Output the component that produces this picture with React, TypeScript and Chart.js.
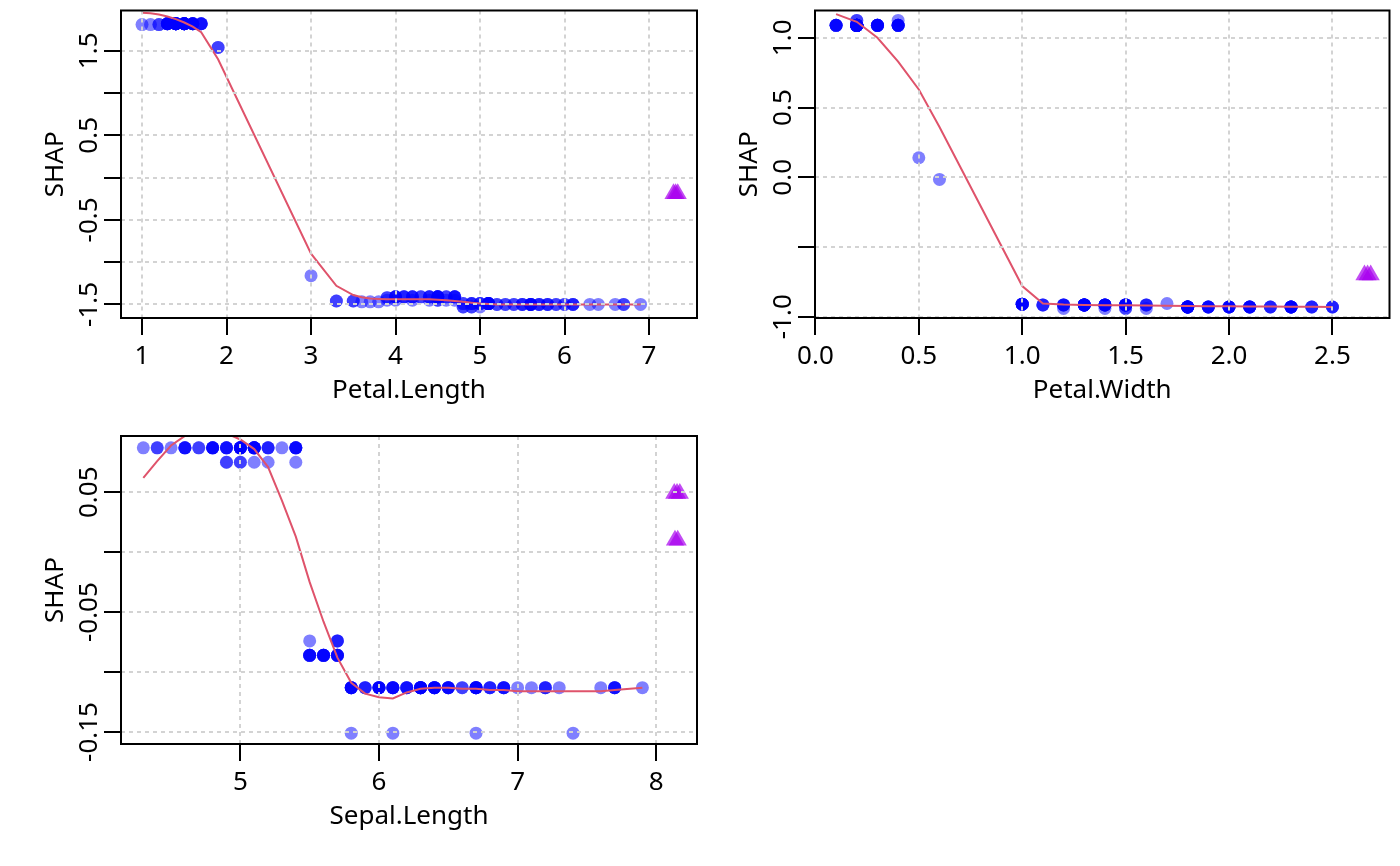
import { useEffect, useRef } from 'react';
import { Chart, registerables } from 'chart.js';

Chart.register(...registerables);

const FONT = '26px "Noto Sans", sans-serif';
const BLUE = 'rgba(0, 0, 255, 0.5)';
const PURPLE = 'rgba(168, 0, 238, 0.7)';
const RED = '#DF536B';
const GRID = '#D3D3D3';

// ---- Petal.Length ----
const PL_X = [1.0, 1.1, 1.2, 1.3, 1.4, 1.5, 1.6, 1.7, 1.9, 3.0, 3.3, 3.5, 3.6, 3.7, 3.8,
  3.9, 3.9, 4.0, 4.0, 4.1, 4.2, 4.2, 4.3, 4.4, 4.4, 4.5, 4.5, 4.6, 4.6, 4.7, 4.7,
  4.8, 4.8, 4.9, 4.9, 5.0, 5.0, 5.1, 5.2, 5.3, 5.4, 5.5, 5.6, 5.7, 5.8, 5.9, 6.0, 6.1,
  6.3, 6.4, 6.6, 6.7, 6.9];
const PL_SHAP = [1.81, 1.81, 1.81, 1.82, 1.82, 1.82, 1.82, 1.82, 1.54, -1.16, -1.46, -1.46, -1.47, -1.47, -1.47,
  -1.42, -1.45, -1.41, -1.45, -1.41, -1.41, -1.45, -1.41, -1.41, -1.45, -1.41, -1.45, -1.41, -1.45, -1.41, -1.45,
  -1.49, -1.53, -1.49, -1.53, -1.49, -1.53, -1.49, -1.5, -1.5, -1.5, -1.5, -1.5, -1.5, -1.5, -1.5, -1.5, -1.5,
  -1.5, -1.5, -1.5, -1.5, -1.5];
const PL_N = [1, 1, 2, 7, 13, 13, 7, 4, 2, 1, 2, 2, 1, 1, 1,
  2, 1, 4, 1, 3, 3, 1, 2, 3, 1, 6, 2, 2, 1, 4, 1,
  2, 2, 3, 2, 3, 1, 8, 2, 2, 2, 3, 6, 3, 3, 2, 2, 3,
  1, 1, 1, 2, 1];
const PL_FIT_X = [1.0, 1.1, 1.2, 1.3, 1.4, 1.5, 1.6, 1.7, 1.9, 3.0, 3.3, 3.5, 3.6, 3.7, 3.8, 3.9, 4.0, 4.1,
  4.2, 4.3, 4.4, 4.5, 4.6, 4.7, 4.8, 4.9, 5.0, 5.1, 5.2, 5.3, 5.4, 5.5, 5.6, 5.7, 5.8, 5.9, 6.0, 6.1,
  6.3, 6.4, 6.6, 6.7, 6.9];
const PL_FIT_Y = [1.95, 1.945, 1.93, 1.905, 1.875, 1.835, 1.785, 1.72, 1.4, -0.9, -1.28, -1.39, -1.415, -1.43, -1.435, -1.44, -1.44, -1.44,
  -1.44, -1.44, -1.44, -1.445, -1.45, -1.46, -1.47, -1.48, -1.49, -1.495, -1.5, -1.5, -1.5, -1.5, -1.5, -1.5, -1.5, -1.5, -1.5, -1.5,
  -1.5, -1.5, -1.5, -1.5, -1.5];
const PL_TRI_X = [7.29, 7.315, 7.34];
const PL_TRI_Y = [-0.19, -0.19, -0.19];
const PL_XTICKS = [1, 2, 3, 4, 5, 6, 7];
const PL_XLABELS = ['1', '2', '3', '4', '5', '6', '7'];
const PL_YTICKS = [-1.5, -1, -0.5, 0, 0.5, 1, 1.5];
const PL_YLABELS = ['-1.5', '', '-0.5', '', '0.5', '', '1.5'];

// ---- Petal.Width ----
const PW_X = [0.1, 0.2, 0.2, 0.3, 0.4, 0.4, 0.5, 0.6, 1.0, 1.1, 1.2, 1.2, 1.3, 1.4, 1.4,
  1.5, 1.5, 1.6, 1.6, 1.7, 1.8, 1.9, 2.0, 2.1, 2.2, 2.3, 2.4, 2.5];
const PW_SHAP = [1.09, 1.09, 1.125, 1.09, 1.09, 1.125, 0.14, -0.015, -0.91, -0.915, -0.915, -0.94, -0.915, -0.915, -0.94,
  -0.915, -0.94, -0.915, -0.94, -0.905, -0.93, -0.93, -0.93, -0.93, -0.93, -0.93, -0.93, -0.93];
const PW_N = [5, 27, 2, 7, 6, 1, 1, 1, 7, 3, 4, 1, 13, 7, 1,
  10, 2, 3, 1, 1, 12, 5, 6, 6, 3, 8, 3, 3];
const PW_FIT_X = [0.1, 0.2, 0.3, 0.4, 0.5, 0.6, 1.0, 1.1, 1.2, 1.3, 1.4, 1.5, 1.6, 1.7, 1.8, 1.9, 2.0, 2.1, 2.2, 2.3, 2.4, 2.5];
const PW_FIT_Y = [1.17, 1.115, 1.0, 0.83, 0.63, 0.36, -0.78, -0.905, -0.912, -0.915, -0.917, -0.918, -0.92, -0.921,
  -0.923, -0.924, -0.925, -0.926, -0.927, -0.928, -0.929, -0.93];
const PW_TRI_X = [2.655, 2.67, 2.685];
const PW_TRI_Y = [-0.7, -0.7, -0.7];
const PW_XTICKS = [0, 0.5, 1, 1.5, 2, 2.5];
const PW_XLABELS = ['0.0', '0.5', '1.0', '1.5', '2.0', '2.5'];
const PW_YTICKS = [-1, -0.5, 0, 0.5, 1];
const PW_YLABELS = ['-1.0', '', '0.0', '0.5', '1.0'];

// ---- Sepal.Length ----
const SL_X = [4.3, 4.4, 4.5, 4.6, 4.7, 4.8, 4.9, 5.0, 5.1, 5.2, 5.3, 5.4,
  4.9, 5.0, 5.1, 5.2, 5.4,
  5.5, 5.5, 5.6, 5.7, 5.7,
  5.8, 5.9, 6.0, 6.1, 6.2, 6.3, 6.4, 6.5, 6.6, 6.7, 6.8, 6.9, 7.0, 7.1, 7.2, 7.3, 7.6, 7.7, 7.9,
  5.8, 6.1, 6.7, 7.4];
const SL_SHAP = [0.087, 0.087, 0.087, 0.087, 0.087, 0.087, 0.087, 0.087, 0.087, 0.087, 0.087, 0.087,
  0.075, 0.075, 0.075, 0.075, 0.075,
  -0.074, -0.086, -0.086, -0.074, -0.086,
  -0.113, -0.113, -0.113, -0.113, -0.113, -0.113, -0.113, -0.113, -0.113, -0.113, -0.113, -0.113, -0.113, -0.113, -0.113, -0.113, -0.113, -0.113, -0.113,
  -0.151, -0.151, -0.151, -0.151];
const SL_N = [1, 2, 1, 4, 2, 5, 4, 8, 8, 3, 1, 5,
  2, 2, 1, 1, 1,
  1, 5, 6, 3, 5,
  6, 3, 6, 5, 4, 9, 7, 5, 2, 7, 3, 4, 1, 1, 3, 1, 1, 4, 1,
  1, 1, 1, 1];
const SL_FIT_X = [4.3, 4.4, 4.5, 4.6, 4.7, 4.8, 4.9, 5.0, 5.1, 5.2, 5.3, 5.4, 5.5, 5.6, 5.7, 5.8, 5.9, 6.0,
  6.1, 6.2, 6.3, 6.4, 6.5, 6.6, 6.7, 6.8, 6.9, 7.0, 7.1, 7.2, 7.3, 7.4, 7.6, 7.7, 7.9];
const SL_FIT_Y = [0.062, 0.076, 0.089, 0.097, 0.101, 0.103, 0.099, 0.094, 0.086, 0.071, 0.043, 0.013, -0.025, -0.058, -0.088, -0.109, -0.118, -0.121,
  -0.122, -0.117, -0.114, -0.113, -0.113, -0.114, -0.114, -0.115, -0.115, -0.116, -0.116, -0.116, -0.116, -0.116, -0.116, -0.115, -0.113];
const SL_TRI_X = [8.13, 8.15, 8.17, 8.135, 8.155];
const SL_TRI_Y = [0.049, 0.049, 0.049, 0.01, 0.01];
const SL_XTICKS = [5, 6, 7, 8];
const SL_XLABELS = ['5', '6', '7', '8'];
const SL_YTICKS = [-0.15, -0.1, -0.05, 0, 0.05];
const SL_YLABELS = ['-0.15', '', '-0.05', '', '0.05'];

type Panel = {
  box: [number, number, number, number];
  xRange: [number, number];
  yRange: [number, number];
  xTicks: number[];
  xLabels: string[];
  yTicks: number[];
  yLabels: string[];
  xTitle: string;
  px: number[];
  py: number[];
  pn: number[];
  fx: number[];
  fy: number[];
  tx: number[];
  ty: number[];
};

const PANELS: Panel[] = [
  {
    box: [121, 9, 697, 318], xRange: [0.751, 7.568], yRange: [-1.661, 1.977],
    xTicks: PL_XTICKS, xLabels: PL_XLABELS, yTicks: PL_YTICKS, yLabels: PL_YLABELS, xTitle: 'Petal.Length',
    px: PL_X, py: PL_SHAP, pn: PL_N, fx: PL_FIT_X, fy: PL_FIT_Y, tx: PL_TRI_X, ty: PL_TRI_Y,
  },
  {
    box: [815, 9, 1393, 318], xRange: [-0.002, 2.776], yRange: [-1.009, 1.196],
    xTicks: PW_XTICKS, xLabels: PW_XLABELS, yTicks: PW_YTICKS, yLabels: PW_YLABELS, xTitle: 'Petal.Width',
    px: PW_X, py: PW_SHAP, pn: PW_N, fx: PW_FIT_X, fy: PW_FIT_Y, tx: PW_TRI_X, ty: PW_TRI_Y,
  },
  {
    box: [121, 436, 697, 744], xRange: [4.139, 8.294], yRange: [-0.16, 0.0969],
    xTicks: SL_XTICKS, xLabels: SL_XLABELS, yTicks: SL_YTICKS, yLabels: SL_YLABELS, xTitle: 'Sepal.Length',
    px: SL_X, py: SL_SHAP, pn: SL_N, fx: SL_FIT_X, fy: SL_FIT_Y, tx: SL_TRI_X, ty: SL_TRI_Y,
  },
];

const AXIS = 100;

function rotatedText(ctx: CanvasRenderingContext2D, text: string, x: number, y: number) {
  ctx.save();
  ctx.translate(x, y);
  ctx.rotate(-Math.PI / 2);
  ctx.fillText(text, 0, 0);
  ctx.restore();
}

function DependencePlot({ panel }: { panel: Panel }) {
  const canvasRef = useRef<HTMLCanvasElement>(null);

  useEffect(() => {
    if (!canvasRef.current) return;
    const [l, t, r, b] = panel.box;

    // one mark per observation, so overlaps darken like in R
    const points: { x: number; y: number }[] = [];
    panel.px.forEach((x, i) => {
      for (let k = 0; k < panel.pn[i]; k++) points.push({ x, y: panel.py[i] });
    });

    // R-like frame, tick labels and axis titles
    const frame = {
      id: 'rFrame',
      afterDraw(chart: Chart) {
        const { ctx, chartArea: a, scales } = chart;
        ctx.save();
        ctx.strokeStyle = '#000';
        ctx.lineWidth = 2;
        ctx.strokeRect(a.left, a.top, a.right - a.left, a.bottom - a.top);
        ctx.fillStyle = '#000';
        ctx.font = FONT;
        ctx.textAlign = 'center';
        ctx.textBaseline = 'alphabetic';
        panel.xTicks.forEach((v, i) => {
          ctx.fillText(panel.xLabels[i], scales.x.getPixelForValue(v), a.bottom + 46);
        });
        ctx.fillText(panel.xTitle, (a.left + a.right) / 2, a.bottom + 80);
        panel.yTicks.forEach((v, i) => {
          if (panel.yLabels[i]) rotatedText(ctx, panel.yLabels[i], a.left - 24, scales.y.getPixelForValue(v));
        });
        rotatedText(ctx, 'SHAP', a.left - 58, (a.top + a.bottom) / 2);
        ctx.restore();
      },
    };

    const axisCommon = {
      type: 'linear' as const,
      ticks: { display: false },
      grid: { color: GRID, lineWidth: 2, tickLength: 17, tickColor: '#000', tickWidth: 2, z: 1 },
      border: { display: false, dash: [4, 4] },
    };

    const chart = new Chart(canvasRef.current, {
      type: 'scatter',
      data: {
        datasets: [
          {
            data: panel.fx.map((x, i) => ({ x, y: panel.fy[i] })),
            showLine: true,
            borderColor: RED,
            borderWidth: 2,
            pointRadius: 0,
            order: 0,
          },
          {
            data: panel.tx.map((x, i) => ({ x, y: panel.ty[i] })),
            pointStyle: 'triangle',
            pointRadius: 10.5,
            backgroundColor: PURPLE,
            borderWidth: 0,
            order: 1,
          },
          {
            data: points,
            pointRadius: 6.5,
            backgroundColor: BLUE,
            borderWidth: 0,
            order: 2,
          },
        ],
      },
      options: {
        animation: false,
        responsive: false,
        events: [],
        layout: { padding: { left: l - AXIS, top: t, right: 1400 - r, bottom: 866 - b - AXIS } },
        plugins: { legend: { display: false }, tooltip: { enabled: false } },
        scales: {
          x: {
            ...axisCommon,
            min: panel.xRange[0],
            max: panel.xRange[1],
            afterBuildTicks: (s: any) => { s.ticks = panel.xTicks.map((value) => ({ value })); },
            afterFit: (s: any) => { s.height = AXIS; },
          },
          y: {
            ...axisCommon,
            min: panel.yRange[0],
            max: panel.yRange[1],
            afterBuildTicks: (s: any) => { s.ticks = panel.yTicks.map((value) => ({ value })); },
            afterFit: (s: any) => { s.width = AXIS; },
          },
        },
      },
      plugins: [frame],
    });

    return () => chart.destroy();
  }, [panel]);

  return <canvas ref={canvasRef} width={1400} height={866} style={{ position: 'absolute', left: 0, top: 0 }} />;
}

export default function App() {
  return (
    <div style={{ position: 'absolute', left: 0, top: 0, width: 1400, height: 866, background: '#fff' }}>
      {PANELS.map((p) => (
        <DependencePlot key={p.xTitle} panel={p} />
      ))}
    </div>
  );
}
